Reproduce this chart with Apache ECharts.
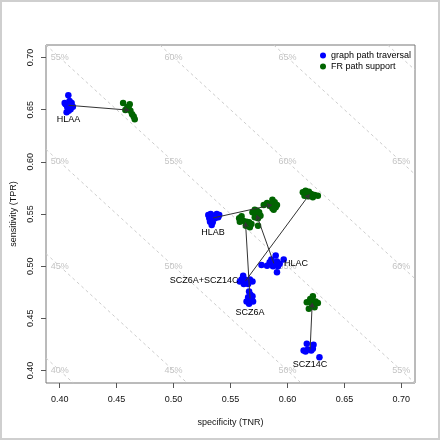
<!DOCTYPE html>
<html><head><meta charset="utf-8">
<script src="https://cdn.jsdelivr.net/npm/echarts@6/dist/echarts.min.js"></script>
<style>html,body{margin:0;padding:0;background:#fff}#c{width:440px;height:440px}</style>
</head><body><div id="c"></div>
<script>
// ---------- data ----------
const xTicks = [0.40, 0.45, 0.50, 0.55, 0.60, 0.65, 0.70];
const yTicks = [0.40, 0.45, 0.50, 0.55, 0.60, 0.65, 0.70];
const isoLevels = [0.40, 0.45, 0.50, 0.55, 0.60, 0.65, 0.70];   // (TNR+TPR)/2
const isoLabelX = [0.40, 0.50, 0.60, 0.70];
const isoLabelY = [0.40, 0.50, 0.60, 0.70];
const groups = ['HLAA', 'HLAB', 'HLAC', 'SCZ6A', 'SCZ14C', 'SCZ6A+SCZ14C'];
const seriesNames = ['graph path traversal', 'FR path support'];

const graph_HLAA = [[0.4076,0.6639],[0.4044,0.6563],[0.4105,0.6563],[0.4067,0.6524],[0.4116,0.6527],[0.4079,0.6489],[0.4096,0.6505],[0.4061,0.6476],[0.4052,0.6553],[0.4087,0.6582]];
const fr_HLAA = [[0.4557,0.6563],[0.4615,0.6553],[0.4606,0.6527],[0.4577,0.6498],[0.4621,0.6489],[0.4636,0.6457],[0.4650,0.6435],[0.4659,0.6409],[0.4594,0.6524]];

const graph_HLAB = [[0.5305,0.5490],[0.5326,0.5500],[0.5349,0.5484],[0.5379,0.5500],[0.5401,0.5490],[0.5314,0.5459],[0.5335,0.5452],[0.5364,0.5459],[0.5392,0.5468],[0.5320,0.5426],[0.5344,0.5421],[0.5335,0.5395]];
const fr_HLAB = [[0.5792,0.5586],[0.5821,0.5605],[0.5868,0.5637],[0.5888,0.5612],[0.5908,0.5586],[0.5897,0.5564],[0.5868,0.5555],[0.5844,0.5580],[0.5879,0.5541],[0.5859,0.5596]];

const graph_HLAC = [[0.5772,0.5012],[0.5821,0.5005],[0.5844,0.5038],[0.5859,0.5063],[0.5873,0.5022],[0.5897,0.5101],[0.5908,0.5044],[0.5932,0.5022],[0.5917,0.5000],[0.5967,0.5063],[0.5908,0.4942],[0.5873,0.5000]];
const fr_HLAC = [[0.5693,0.5516],[0.5713,0.5541],[0.5733,0.5532],[0.5722,0.5500],[0.5751,0.5516],[0.5763,0.5484],[0.5713,0.5468],[0.5742,0.5459],[0.5742,0.5388]];

const graph_SCZ6A = [[0.5663,0.4756],[0.5676,0.4725],[0.5655,0.4703],[0.5693,0.4712],[0.5641,0.4661],[0.5670,0.4670],[0.5698,0.4661],[0.5663,0.4639],[0.5684,0.4686]];
const fr_SCZ6A = [[0.5576,0.5459],[0.5597,0.5478],[0.5611,0.5436],[0.5641,0.5426],[0.5663,0.5421],[0.5684,0.5404],[0.5670,0.5373],[0.5635,0.5388],[0.5582,0.5426],[0.5658,0.5395]];

const graph_SCZ14C = [[0.6170,0.4256],[0.6229,0.4246],[0.6142,0.4192],[0.6179,0.4201],[0.6209,0.4192],[0.6159,0.4182],[0.6223,0.4208],[0.6281,0.4128]];
const fr_SCZ14C = [[0.6170,0.4655],[0.6200,0.4686],[0.6223,0.4712],[0.6247,0.4661],[0.6267,0.4648],[0.6218,0.4622],[0.6188,0.4591],[0.6238,0.4607],[0.6209,0.4655]];

const graph_SCZ6A_SCZ14C = [[0.5611,0.4909],[0.5626,0.4871],[0.5582,0.4852],[0.5641,0.4852],[0.5670,0.4871],[0.5693,0.4852],[0.5655,0.4830],[0.5617,0.4830],[0.5597,0.4871]];
const fr_SCZ6A_SCZ14C = [[0.6135,0.5708],[0.6159,0.5723],[0.6188,0.5714],[0.6209,0.5692],[0.6238,0.5682],[0.6267,0.5675],[0.6150,0.5675],[0.6179,0.5670],[0.6223,0.5660]];

const graphSets = [graph_HLAA, graph_HLAB, graph_HLAC, graph_SCZ6A, graph_SCZ14C, graph_SCZ6A_SCZ14C];
const frSets = [fr_HLAA, fr_HLAB, fr_HLAC, fr_SCZ6A, fr_SCZ14C, fr_SCZ6A_SCZ14C];

// ---------- build ----------
const AX_MIN = 0.388, AX_MAX = 0.712;
const FONT = 'Liberation Sans, Arial, Helvetica, sans-serif';
const labelSide = {'HLAA':'bottom','HLAB':'bottom','HLAC':'right','SCZ6A':'bottom','SCZ14C':'bottom','SCZ6A+SCZ14C':'left'};

function mean(pts){ let sx=0, sy=0; pts.forEach(p=>{sx+=p[0]; sy+=p[1];}); return [sx/pts.length, sy/pts.length]; }

const isoSegs = isoLevels.map(c => {
  const s = 2*c;
  const x0 = Math.max(AX_MIN, s - AX_MAX), x1 = Math.min(AX_MAX, s - AX_MIN);
  return {coords: [[x0, s - x0], [x1, s - x1]]};
});
const isoText = [];
isoLabelX.forEach(x => isoLabelY.forEach(y => {
  const pct = Math.round((x + y) / 2 * 100);
  if (pct <= 65) isoText.push({value: [x, y], name: pct + '%'});
}));

const arrows = groups.map((g, i) => ({coords: [mean(graphSets[i]), mean(frSets[i])]}));
const groupLabels = groups.map((g, i) => ({
  value: mean(graphSets[i]), name: g,
  label: {position: labelSide[g], distance: labelSide[g] === 'bottom' ? 10 : (labelSide[g] === 'left' ? 7 : 10)}
}));

const chart = echarts.init(document.getElementById('c'), null, {renderer: 'canvas'});
chart.setOption({
  animation: false,
  backgroundColor: '#fff',
  textStyle: {fontFamily: FONT},
  graphic: [{type: 'rect', shape: {x: 1, y: 1, width: 438, height: 438}, style: {fill: 'none', stroke: '#cfcfcf', lineWidth: 2}, silent: true}],
  grid: {left: 46, right: 25, top: 45, bottom: 57, show: true, borderColor: '#777', borderWidth: 1, backgroundColor: 'transparent'},
  legend: {
    data: seriesNames, orient: 'vertical', left: 320, top: 51, padding: 0,
    icon: 'circle', itemWidth: 6, itemHeight: 6, itemGap: 2,
    textStyle: {fontSize: 9, color: '#000', fontFamily: FONT, lineHeight: 9}
  },
  xAxis: {
    type: 'value', min: AX_MIN, max: AX_MAX,
    splitLine: {show: false}, axisLine: {show: false},
    axisTick: {show: true, customValues: xTicks, length: 5, lineStyle: {color: '#555'}},
    axisLabel: {customValues: xTicks, formatter: v => v.toFixed(2), fontSize: 9, color: '#111', margin: 12, fontFamily: FONT},
    name: 'specificity (TNR)', nameLocation: 'middle', nameGap: 35,
    nameTextStyle: {fontSize: 9, color: '#111', fontFamily: FONT}
  },
  yAxis: {
    type: 'value', min: AX_MIN, max: AX_MAX,
    splitLine: {show: false}, axisLine: {show: false},
    axisTick: {show: true, customValues: yTicks, length: 5, lineStyle: {color: '#555'}},
    axisLabel: {customValues: yTicks, formatter: v => v.toFixed(2), fontSize: 9, color: '#111', margin: 11, rotate: 90, fontFamily: FONT},
    name: 'sensitivity (TPR)', nameLocation: 'middle', nameGap: 23, nameRotate: 90,
    nameTextStyle: {fontSize: 9, color: '#111', fontFamily: FONT}
  },
  series: [
    {type: 'lines', coordinateSystem: 'cartesian2d', data: isoSegs, silent: true, z: 1,
     lineStyle: {color: '#cccccc', width: 1, type: [3, 3], opacity: 1}},
    {type: 'scatter', data: isoText, symbolSize: 0, silent: true, z: 1, itemStyle: {opacity: 1},
     label: {show: true, position: 'inside', formatter: '{b}', fontSize: 9, color: '#c4c4c4', fontFamily: FONT, textBorderWidth: 0}},
    {name: seriesNames[0], type: 'scatter', data: [].concat(...graphSets), symbol: 'circle', symbolSize: 6.5,
     itemStyle: {color: '#0000ff', opacity: 1}, z: 3},
    {name: seriesNames[1], type: 'scatter', data: [].concat(...frSets), symbol: 'circle', symbolSize: 6.5,
     itemStyle: {color: '#006400', opacity: 1}, z: 3},
    {type: 'lines', coordinateSystem: 'cartesian2d', data: arrows, silent: true, z: 4,
     symbol: ['none', 'arrow'], symbolSize: 5,
     lineStyle: {color: '#333', width: 1, opacity: 1}},
    {type: 'scatter', data: groupLabels, symbolSize: 0, silent: true, z: 5, itemStyle: {opacity: 1},
     label: {show: true, formatter: '{b}', fontSize: 9, color: '#000', fontFamily: FONT, textBorderWidth: 0, opacity: 1}}
  ]
});
</script>
</body></html>
